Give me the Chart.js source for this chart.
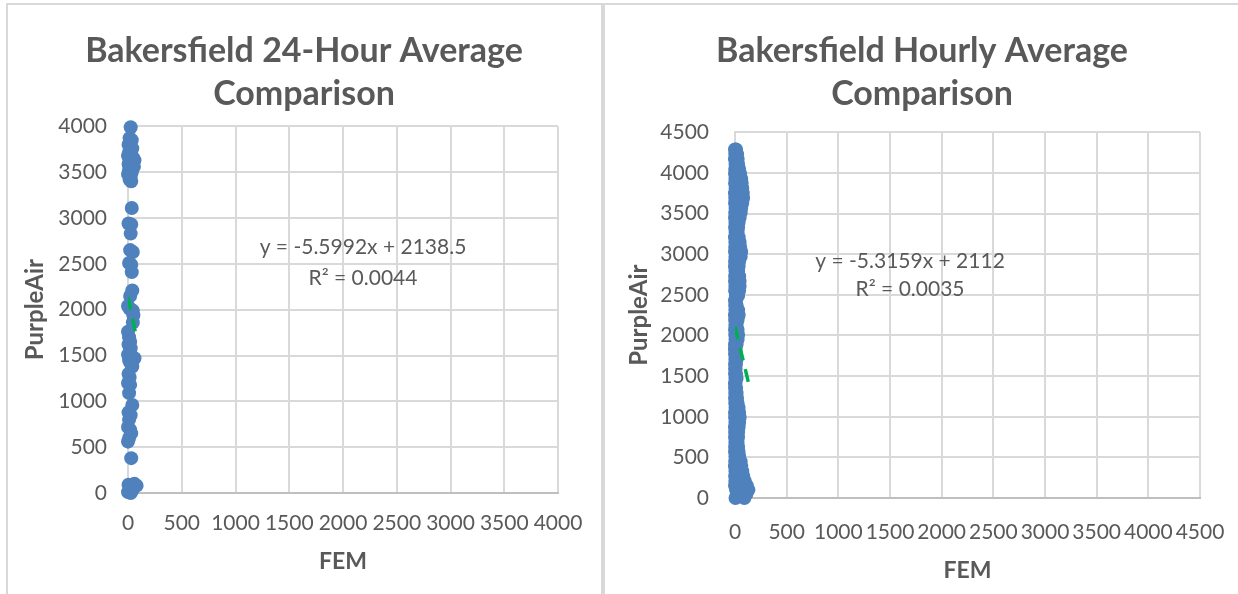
<!DOCTYPE html>
<html>
<head>
<meta charset="utf-8">
<script src="https://cdn.jsdelivr.net/npm/chart.js@4.4.1/dist/chart.umd.min.js"></script>
<style>
  body { margin: 0; width: 1238px; height: 594px; overflow: hidden; position: relative; background: #fff; }
  .panel { position: absolute; top: 3px; height: 610px; border: 2px solid #d9d9d9; border-bottom: none; box-sizing: border-box; }
  #p1 { left: 6px; width: 597px; }
  #p2 { left: 603px; width: 700px; }
  canvas { position: absolute; }
  #c1 { left: 8px; top: 5px; }
  #c2 { left: 606px; top: 5px; }
</style>
</head>
<body>
<div class="panel" id="p1"></div>
<div class="panel" id="p2"></div>
<canvas id="c1" width="592" height="589"></canvas>
<canvas id="c2" width="632" height="589"></canvas>
<script>
// 24-hour averages (FEM, PurpleAir)
var leftFem = [25,15,35,5,20,40,10,30,0,45,15,60,25,5,40,55,20,10,35,0,25,15,30,
  35,5,30,25,20,45,10,30,35,40,20,0,15,45,50,45,0,10,20,5,25,15,0,30,60,10,20,
  40,5,15,0,20,10,40,5,25,10,0,20,30,10,0,30,5,20,0,40,60,80,25,10];
var leftPurple = [3990,3870,3850,3800,3780,3760,3720,3700,3680,3660,3640,3630,3610,3590,3580,3560,3540,3520,3500,3480,3450,3420,3400,
  3110,2940,2930,2830,2650,2630,2510,2490,2410,2210,2150,2040,2010,1990,1940,1860,1760,1700,1650,1620,1580,1540,1510,1500,1470,1450,1420,
  1380,1300,1260,1200,1180,1090,960,880,850,800,720,690,650,600,560,380,90,50,10,30,100,80,0,20];

// hourly averages: PurpleAir levels, with an inner and an outer FEM reading at each
var rightPurple = [4290,4230,4170,4110,4050,3990,3930,3870,3810,3750,3690,3630,3570,3510,3450,3390,3330,3270,3210,3150,
  3090,3030,2970,2910,2850,2790,2730,2670,2610,2550,2490,2430,2370,2310,2250,2190,2130,2070,2010,1950,
  1890,1830,1770,1710,1650,1590,1530,1470,1410,1350,1290,1230,1170,1110,1050,990,930,870,810,750,
  690,630,570,510,450,390,330,270,210,150,100,50,0];
var rightFemOuter = [10,20,25,30,40,50,60,65,70,75,78,70,60,55,45,35,30,25,35,45,
  50,60,55,40,35,30,40,45,45,40,30,10,15,30,35,25,15,25,30,25,
  15,5,10,15,10,5,10,15,5,10,15,20,25,35,40,45,40,35,30,30,
  25,30,35,40,55,60,70,80,95,115,130,110,90];
var rightFemInner = [0,3,0,5,2,0,4,1,6,0,3,0,5,2,0,4,1,6,0,3,
  2,0,4,1,0,5,2,0,3,1,8,0,2,4,0,1,3,0,2,5,
  0,0,1,3,0,2,0,4,0,1,3,0,2,5,0,1,4,0,2,0,
  3,1,0,4,2,0,5,1,3,0,10,20,5];

// linear trendlines over the FEM range
var leftTrendX = [0, 72];
var leftTrendY = [2138.5, 1735.4];
var rightTrendX = [0, 140];
var rightTrendY = [2112, 1367.8];

var leftTicksMax = 4000;
var rightTicksMax = 4500;

var grey = '#595959';
var font = 'Lato';

function toPoints(xs, ys) {
  var pts = [];
  for (var i = 0; i < xs.length; i++) pts.push({x: xs[i], y: ys[i]});
  return pts;
}

var eqPlugin = {
  id: 'eqLabel',
  afterDatasetsDraw: function (chart, args, opts) {
    var ctx = chart.ctx;
    var px = chart.scales.x.getPixelForValue(opts.x);
    var py = chart.scales.y.getPixelForValue(opts.y);
    ctx.save();
    ctx.font = '21px ' + font;
    ctx.fillStyle = grey;
    ctx.textAlign = 'center';
    ctx.textBaseline = 'middle';
    ctx.fillText(opts.lines[0], px, py);
    ctx.fillText(opts.lines[1], px, py + opts.gap);
    ctx.restore();
  }
};

function plain(v) { return String(v); }

function buildChart(id, g) {
  return new Chart(id, {
    type: 'scatter',
    plugins: [eqPlugin],
    data: {
      datasets: [{
        data: toPoints(g.trendX, g.trendY),
        showLine: true,
        borderColor: '#00b050',
        borderWidth: 3.5,
        borderDash: [13, 9],
        pointRadius: 0,
        order: 0
      }, {
        data: g.points,
        backgroundColor: '#4f81bd',
        borderColor: '#4f81bd',
        borderWidth: 0,
        pointRadius: 7,
        clip: false,
        order: 1
      }]
    },
    options: {
      responsive: false,
      animation: false,
      layout: {padding: 0},
      plugins: {
        legend: {display: false},
        tooltip: {enabled: false},
        title: {
          display: true,
          text: g.title,
          color: grey,
          font: {family: font, size: 34, weight: 'bold', lineHeight: 1.27},
          padding: {top: g.titleTop, bottom: g.titleBottom}
        },
        eqLabel: g.eq
      },
      scales: {
        x: {
          min: 0, max: g.max,
          afterFit: function (s) { s.height = g.xHeight; s.paddingLeft = 0; s.paddingRight = 0; },
          ticks: {stepSize: 500, autoSkip: false, maxRotation: 0, color: grey, padding: g.xTickPad,
                  font: {family: font, size: 21}, callback: plain},
          grid: {color: '#d9d9d9', lineWidth: 2, drawTicks: false},
          border: {color: '#bfbfbf', width: 2},
          title: {display: true, text: 'FEM', color: grey, font: {family: font, size: 23, weight: 'bold', lineHeight: 1.2},
                  padding: {top: 0, bottom: g.xTitlePad}}
        },
        y: {
          min: 0, max: g.max,
          afterFit: function (s) { s.width = g.yWidth; },
          ticks: {stepSize: 500, color: grey, padding: g.yTickPad, font: {family: font, size: 21}, callback: plain},
          grid: {color: '#d9d9d9', lineWidth: 2, drawTicks: false},
          border: {color: '#d9d9d9', width: 2},
          title: {display: true, text: 'PurpleAir', color: grey, font: {family: font, size: 24, weight: 'bold', lineHeight: 1.2},
                  padding: {top: g.yTitlePad, bottom: 0}}
        },
        // empty right-hand margin so the title stays centred on the whole panel
        margin: {
          type: 'linear', position: 'right', display: true,
          afterFit: function (s) { s.width = g.padRight; },
          ticks: {display: false},
          grid: {display: false},
          border: {display: false}
        }
      }
    }
  });
}

var rightPoints = toPoints(rightFemInner, rightPurple).concat(toPoints(rightFemOuter, rightPurple));

buildChart('c1', {
  title: ['Bakersfield 24-Hour Average', 'Comparison'],
  points: toPoints(leftFem, leftPurple),
  trendX: leftTrendX, trendY: leftTrendY,
  max: leftTicksMax,
  padRight: 42, xHeight: 101, yWidth: 120,
  titleTop: 24, titleBottom: 11,
  xTickPad: 18, yTickPad: 21, xTitlePad: 19, yTitlePad: 13,
  eq: {lines: ['y = -5.5992x + 2138.5', 'R\u00b2 = 0.0044'], x: 2186, y: 2678, gap: 31}
});

buildChart('c2', {
  title: ['Bakersfield Hourly Average', 'Comparison'],
  points: rightPoints,
  trendX: rightTrendX, trendY: rightTrendY,
  max: rightTicksMax,
  padRight: 38, xHeight: 96, yWidth: 129,
  titleTop: 24, titleBottom: 17,
  xTickPad: 22, yTickPad: 26, xTitlePad: 10, yTitlePad: 19,
  eq: {lines: ['y = -5.3159x + 2112', 'R\u00b2 = 0.0035'], x: 1694, y: 2910, gap: 28}
});
</script>
</body>
</html>
